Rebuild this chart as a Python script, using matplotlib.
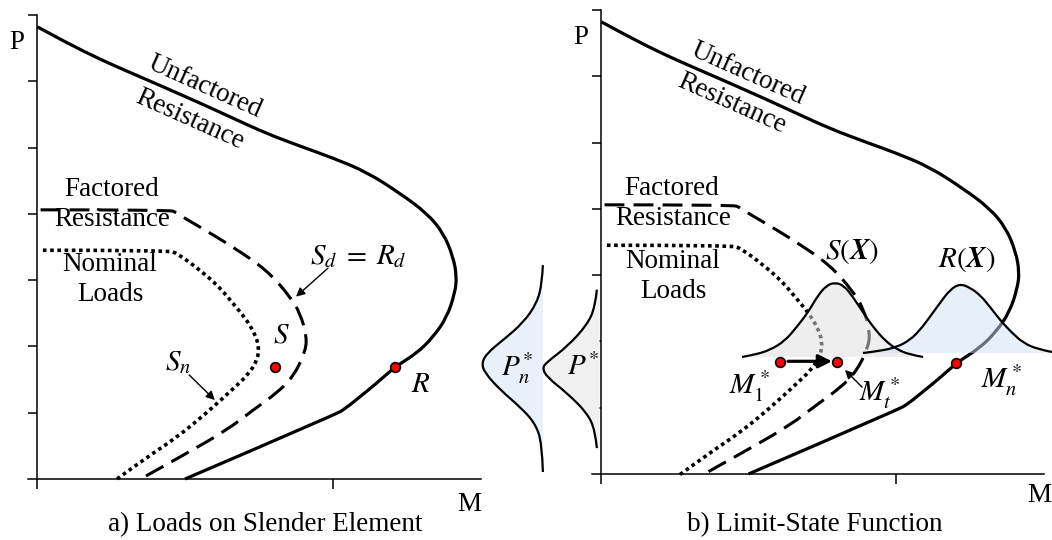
import numpy as np
import matplotlib.pyplot as plt
from matplotlib.path import Path
from matplotlib.patches import PathPatch

plt.rcParams['font.family'] = ['Liberation Serif', 'DejaVu Serif']
plt.rcParams['mathtext.fontset'] = 'stix'

# Interaction curves (M, P); same shapes in both panels
unf_m = [0.001, 0.100, 0.213, 0.325, 0.393, 0.551, 0.663, 0.776, 0.889, 1.001, 1.114,
         1.226, 1.317, 1.373, 1.406, 1.418, 1.412, 1.385, 1.338, 1.284, 1.209, 1.149,
         1.091, 1.041, 1.007, 0.500]
unf_p = [6.82, 6.58, 6.33, 6.11, 5.98, 5.67, 5.44, 5.21, 5.02, 4.84, 4.63,
         4.31, 4.01, 3.71, 3.35, 3.05, 2.81, 2.44, 2.14, 1.90, 1.69, 1.45,
         1.24, 1.06, 0.97, 0.00]

fac_m = [0.012, 0.449, 0.470, 0.500, 0.551, 0.662, 0.777, 0.855, 0.889, 0.912, 0.905,
         0.865, 0.811, 0.730, 0.642, 0.507, 0.358]
fac_p = [4.06, 4.06, 4.02, 3.93, 3.80, 3.50, 3.15, 2.75, 2.50, 2.14, 1.90,
         1.54, 1.30, 1.04, 0.74, 0.39, 0.02]

nom_m = [0.020, 0.443, 0.475, 0.551, 0.615, 0.662, 0.705, 0.735, 0.750, 0.745, 0.715,
         0.660, 0.574, 0.473, 0.372, 0.264]
nom_p = [3.45, 3.45, 3.40, 3.15, 2.90, 2.65, 2.42, 2.20, 2.00, 1.80, 1.58,
         1.35, 1.00, 0.63, 0.33, -0.02]

# design points
pts_a_m = [0.804, 1.209]
pts_a_p = [1.69, 1.69]
pts_b_m = [0.607, 0.800, 1.203]
pts_b_p = [1.69, 1.69, 1.67]

# load / resistance distributions (panel b)
s_bell_m = [0.478, 0.522, 0.573, 0.624, 0.664, 0.702, 0.732, 0.763, 0.793, 0.824,
            0.854, 0.888, 0.922, 0.963, 1.003, 1.047, 1.092]
s_bell_p = [1.765, 1.80, 1.87, 2.01, 2.22, 2.44, 2.67, 2.84, 2.89, 2.84,
            2.67, 2.44, 2.22, 2.01, 1.88, 1.80, 1.765]
s_base = 1.765
r_bell_m = [0.888, 0.946, 1.003, 1.047, 1.081, 1.115, 1.149, 1.183, 1.217, 1.251,
            1.285, 1.319, 1.353, 1.393, 1.431, 1.478, 1.529]
r_bell_p = [1.825, 1.855, 1.915, 2.02, 2.17, 2.37, 2.58, 2.78, 2.87, 2.81,
            2.70, 2.52, 2.32, 2.13, 1.98, 1.885, 1.84]
r_base = 1.825

pn_bell_m = [-0.197, -0.200, -0.217, -0.264, -0.332, -0.386, -0.405, -0.393, -0.342,
             -0.274, -0.224, -0.200, -0.197]
pn_bell_p = [3.15, 2.88, 2.58, 2.28, 2.02, 1.825, 1.67, 1.52, 1.27, 1.01, 0.77, 0.47, 0.03]
pn_base = -0.197
ps_bell_m = [-0.014, -0.020, -0.047, -0.115, -0.183, -0.199, -0.183, -0.115, -0.047,
             -0.020, -0.014]
ps_bell_p = [2.78, 2.52, 2.25, 1.92, 1.69, 1.60, 1.46, 1.22, 0.92, 0.66, 0.39]
ps_base = -0.005

W, H = 1052, 540
fig = plt.figure(figsize=(W / 100, H / 100), dpi=100)


def place(ax, ox, oy, sx, sy, xlim, ylim):
    ax.set_xlim(xlim)
    ax.set_ylim(ylim)
    ax.set_position([(ox + xlim[0] * sx) / W, (H - oy + ylim[0] * sy) / H,
                     (xlim[1] - xlim[0]) * sx / W, (ylim[1] - ylim[0]) * sy / H])


def frame(ax):
    ax.patch.set_alpha(0)
    for s in ['top', 'right']:
        ax.spines[s].set_visible(False)
    ax.spines['left'].set_position(('data', 0))
    ax.spines['bottom'].set_position(('data', 0))
    ax.spines['left'].set_bounds(0, 7)
    ax.spines['bottom'].set_bounds(-0.03, 1.5)
    for s in ['left', 'bottom']:
        ax.spines[s].set_linewidth(1.1)
    ax.set_yticks(range(1, 8))
    ax.set_xticks([0, 1])
    ax.tick_params(axis='y', direction='out', length=6.5, width=1.1, labelleft=False)
    ax.tick_params(axis='x', direction='out', length=7.5, width=1.1, labelbottom=False)


def smooth(xs, ys, closed=False, base=None, vertical=False):
    # quadratic bezier path using the read points as control points
    verts = [(xs[0], ys[0])]
    codes = [Path.MOVETO]
    n = len(xs)
    for i in range(1, n - 1):
        if i == n - 2:
            end = (xs[-1], ys[-1])
        else:
            end = ((xs[i] + xs[i + 1]) / 2, (ys[i] + ys[i + 1]) / 2)
        verts += [(xs[i], ys[i]), end]
        codes += [Path.CURVE3, Path.CURVE3]
    if closed:
        if vertical:
            verts += [(base, ys[-1]), (base, ys[0]), (xs[0], ys[0])]
        else:
            verts += [(xs[-1], base), (xs[0], base), (xs[0], ys[0])]
        codes += [Path.LINETO, Path.LINETO, Path.CLOSEPOLY]
    return Path(verts, codes)


def curve(ax, xs, ys, **kw):
    ax.add_patch(PathPatch(smooth(xs, ys), fill=False, **kw))


def area(ax, xs, ys, base, vertical=False, **kw):
    ax.add_patch(PathPatch(smooth(xs, ys, True, base, vertical), lw=0, **kw))


def curves(ax):
    curve(ax, unf_m, unf_p, edgecolor='k', lw=2.3, zorder=2, capstyle='butt')
    curve(ax, fac_m, fac_p, edgecolor='k', lw=2.2, ls=(0, (6.5, 3)), zorder=2)
    curve(ax, nom_m, nom_p, edgecolor='k', lw=2.6, ls=(0, (1, 1.0)), zorder=2)


fs = 19.5
fm = 21
ax1 = fig.add_axes([0, 0, 1, 1])
place(ax1, 37, 479, 296, 66.3, (-0.125, 1.56), (-0.92, 7.22))
ax2 = fig.add_axes([0, 0, 1, 1])
place(ax2, 601, 474, 295, 66.3, (-0.43, 1.53), (-1.0, 7.15))

for ax in (ax1, ax2):
    frame(ax)
    curves(ax)
    ax.text(-0.068, 6.59, 'P', fontsize=fs, ha='center', va='center')

# ---- panel a
ax1.plot(pts_a_m, pts_a_p, 'o', ms=7, mfc='red', mec='k', mew=1.2, zorder=5)
ax1.text(0.568, 5.92, 'Unfactored', fontsize=fs, rotation=-24, ha='center', va='center')
ax1.text(0.517, 5.42, 'Resistance', fontsize=fs, rotation=-24, ha='center', va='center')
ax1.text(0.253, 4.37, 'Factored', fontsize=fs, ha='center', va='center')
ax1.text(0.253, 3.91, 'Resistance', fontsize=fs, ha='center', va='center')
ax1.text(0.247, 3.24, 'Nominal', fontsize=fs, ha='center', va='center')
ax1.text(0.247, 2.78, 'Loads', fontsize=fs, ha='center', va='center')
ax1.text(1.084, 3.35, r'$S_d\;=\;R_d$', fontsize=fm, ha='center', va='center')
ax1.text(0.824, 2.16, r'$S$', fontsize=fm, ha='center', va='center')
ax1.text(1.297, 1.42, r'$R$', fontsize=fm, ha='center', va='center')
ax1.text(0.476, 1.75, r'$S_n$', fontsize=fm, ha='center', va='center')
thin = dict(arrowstyle='-|>', lw=1.0, color='k', mutation_scale=13, shrinkA=0, shrinkB=0)
ax1.annotate('', xy=(0.601, 1.19), xytext=(0.514, 1.57), arrowprops=thin)
ax1.annotate('', xy=(0.875, 2.75), xytext=(0.983, 3.18), arrowprops=thin)
ax1.text(1.459, -0.38, 'M', fontsize=fs, ha='center', va='center')
ax1.text(0.77, -0.69, 'a) Loads on Slender Element', fontsize=fs, ha='center', va='center')

# ---- panel b
area(ax2, s_bell_m, s_bell_p, s_base, facecolor=(0.88, 0.88, 0.88), alpha=0.52, zorder=3)
area(ax2, r_bell_m, r_bell_p, r_base, facecolor=(0.82, 0.88, 0.96), alpha=0.5, zorder=3)
curve(ax2, s_bell_m, s_bell_p, edgecolor='k', lw=1.6, zorder=4)
curve(ax2, r_bell_m, r_bell_p, edgecolor='k', lw=1.6, zorder=4)
area(ax2, pn_bell_m, pn_bell_p, pn_base, vertical=True, facecolor=(0.91, 0.94, 0.98), zorder=3)
curve(ax2, pn_bell_m, pn_bell_p, edgecolor='k', lw=1.6, zorder=4)
area(ax2, ps_bell_m, ps_bell_p, ps_base, vertical=True, facecolor=(0.94, 0.94, 0.94), zorder=3)
curve(ax2, ps_bell_m, ps_bell_p, edgecolor='k', lw=1.6, zorder=4)

ax2.annotate('', xy=(0.783, 1.70), xytext=(0.634, 1.70),
             arrowprops=dict(arrowstyle='-|>', lw=2.3, color='k', mutation_scale=20,
                             shrinkA=0, shrinkB=0), zorder=5)
ax2.annotate('', xy=(0.827, 1.57), xytext=(0.885, 1.31), arrowprops=thin, zorder=5)
ax2.plot(pts_b_m, pts_b_p, 'o', ms=7, mfc='red', mec='k', mew=1.2, zorder=6)

ax2.text(0.498, 6.04, 'Unfactored', fontsize=fs, rotation=-24, ha='center', va='center')
ax2.text(0.444, 5.59, 'Resistance', fontsize=fs, rotation=-24, ha='center', va='center')
ax2.text(0.241, 4.31, 'Factored', fontsize=fs, ha='center', va='center')
ax2.text(0.244, 3.86, 'Resistance', fontsize=fs, ha='center', va='center')
ax2.text(0.244, 3.21, 'Nominal', fontsize=fs, ha='center', va='center')
ax2.text(0.244, 2.75, 'Loads', fontsize=fs, ha='center', va='center')
ax2.text(0.851, 3.35, r'$S(\mathbfit{X})$', fontsize=fm, ha='center', va='center')
ax2.text(1.241, 3.24, r'$R(\mathbfit{X})$', fontsize=fm, ha='center', va='center')
ax2.text(0.505, 1.33, r'$M_1^*$', fontsize=fm, ha='center', va='center', zorder=6)
ax2.text(0.946, 1.22, r'$M_t^*$', fontsize=fm, ha='center', va='center', zorder=6)
ax2.text(1.359, 1.42, r'$M_n^*$', fontsize=fm, ha='center', va='center', zorder=6)
ax2.text(-0.061, 1.61, r'$P^{\!*}$', fontsize=fm, ha='center', va='center', zorder=6)
ax2.text(-0.285, 1.60, r'$P_n^{\!*}$', fontsize=fm, ha='center', va='center', zorder=6)
ax2.text(1.485, -0.33, 'M', fontsize=fs, ha='center', va='center')
ax2.text(0.725, -0.77, 'b) Limit-State Function', fontsize=fs, ha='center', va='center')

fig.savefig('out.png', dpi=100)
